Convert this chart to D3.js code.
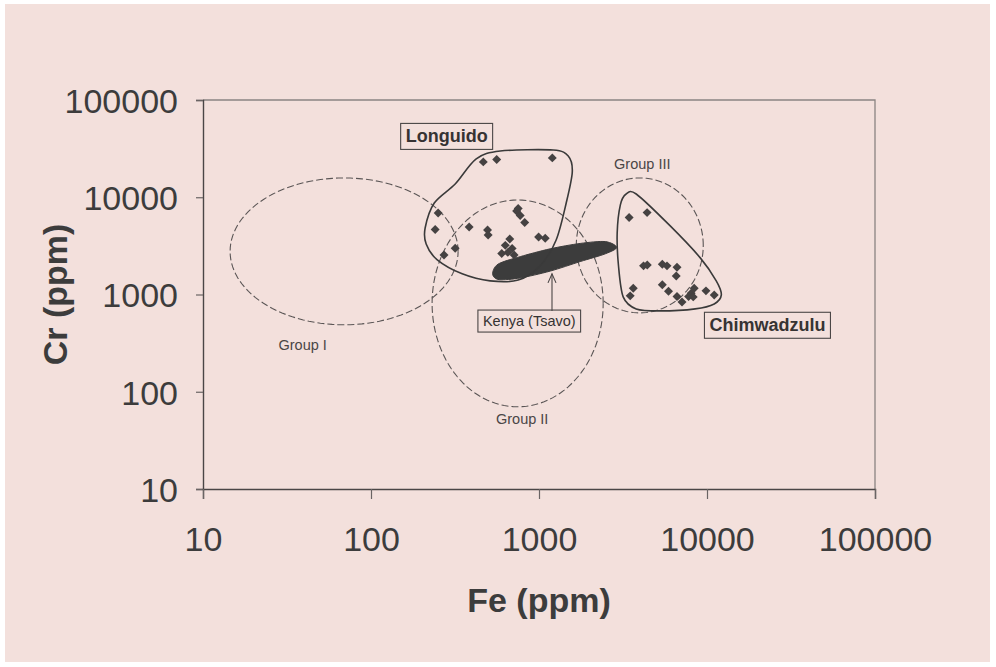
<!DOCTYPE html>
<html>
<head>
<meta charset="utf-8">
<script src="https://cdn.jsdelivr.net/npm/d3@7"></script>
<style>
  html, body { margin: 0; padding: 0; background: #ffffff; }
  svg { display: block; font-family: "Liberation Sans", Arial, sans-serif; }
</style>
</head>
<body>
<svg id="chart" width="996" height="667"></svg>
<script>
// Axis tick values (log scales)
const feTicks = [10, 100, 1000, 10000, 100000];
const crTicks = [10, 100, 1000, 10000, 100000];

// Longuido samples [Fe ppm, Cr ppm]
const longuidoPts = [
  [466, 23100], [560, 24400], [1200, 25400],
  [251, 6900], [241, 4670], [384, 4950], [317, 2990], [272, 2550],
  [736, 7230], [773, 6500], [752, 7680], [822, 5510],
  [494, 4610], [498, 4100], [670, 3720], [630, 3200], [692, 2980],
  [600, 2640], [652, 2710], [711, 2550], [995, 3910], [1089, 3780]
];

// Chimwadzulu samples [Fe ppm, Cr ppm]
const chimwadzuluPts = [
  [3440, 6200], [4400, 6950], [4190, 1970], [4410, 2010], [5420, 2050],
  [5780, 1970], [6630, 1910], [6560, 1550], [3640, 1160], [3490, 968],
  [5420, 1260], [5900, 1080], [6630, 955], [7100, 839], [7770, 951],
  [8050, 1030], [8390, 1160], [8280, 945], [9860, 1090], [11040, 990]
];

// Field outlines [Fe ppm, Cr ppm]
const longuidoOutline = [
  [210, 4830], [238, 8730], [317, 13700], [423, 24800], [588, 29900],
  [1216, 30600], [1493, 26500], [1578, 18200], [1452, 8730], [1265, 3640],
  [1016, 1970], [752, 1410], [512, 1380], [349, 1630], [248, 2270], [213, 3310]
];
const chimwadzuluOutline = [
  [3050, 8340], [3300, 10800], [3790, 10800], [6040, 5070], [9120, 2380],
  [11350, 1380], [12170, 990], [11040, 800], [8510, 711], [5270, 678],
  [3790, 711], [3170, 945], [2970, 2010], [2920, 4290]
];
// Kenya (Tsavo) dense sample field
const kenyaOutline = [
  [530, 1620], [570, 2050], [773, 2450], [1166, 2950], [1758, 3350],
  [2480, 3500], [2900, 3050], [2480, 2620], [1758, 2180], [1166, 1740],
  [773, 1480], [580, 1420]
];

// Group ellipses: Fe range and Cr range
const groupNames = ["Group I", "Group II", "Group III"];
const groupFe = [[14.5, 330], [231, 2410], [1667, 9500]];
const groupCr = [[488, 15800], [70, 9380], [647, 15800]];
const groupLabelPos = [[39.2, 303], [794, 52.6], [4120, 22000]];

const svg = d3.select("#chart");

// paper background
svg.append("rect").attr("x", 5).attr("y", 4).attr("width", 985).attr("height", 658)
  .attr("fill", "#f3e0dc");

const x = d3.scaleLog().domain([10, 100000]).range([203, 875]);
const y = d3.scaleLog().domain([10, 100000]).range([489, 100]);

const ink = "#3a3a3a";

// plot frame (top and right)
svg.append("path")
  .attr("d", `M${x(10)},${y(100000)}H${x(100000)}V${y(10)}`)
  .attr("fill", "none").attr("stroke", "#8a8482").attr("stroke-width", 1.3);

// axes
const yAxis = d3.axisLeft(y).tickValues(crTicks).tickSize(7).tickPadding(18)
  .tickFormat(d3.format("d"));
const xAxis = d3.axisBottom(x).tickValues(feTicks).tickSize(10).tickPadding(28)
  .tickFormat(d3.format("d"));

const gy = svg.append("g").attr("transform", `translate(${x(10)},0)`).call(yAxis);
const gx = svg.append("g").attr("transform", `translate(0,${y(10)})`).call(xAxis);
[gx, gy].forEach(g => {
  g.select(".domain").attr("stroke", "#4a4646").attr("stroke-width", 1.4);
  g.selectAll(".tick line").attr("stroke", "#6a6464").attr("stroke-width", 1.2);
  g.selectAll(".tick text").attr("fill", "#3c3c3c")
    .style("font-family", "'Liberation Sans', Arial, sans-serif").style("font-size", "34px");
});
gy.selectAll(".tick text").attr("dy", "0.36em");

// axis titles
svg.append("text").attr("x", x(1000)).attr("y", 612).attr("text-anchor", "middle")
  .attr("font-size", 34).attr("font-weight", "bold").attr("fill", "#3c3c3c").text("Fe (ppm)");
svg.append("text").attr("transform", `translate(67,${y(1000)}) rotate(-90)`)
  .attr("text-anchor", "middle")
  .attr("font-size", 34).attr("font-weight", "bold").attr("fill", "#3c3c3c").text("Cr (ppm)");

// group ellipses drawn in log-log space
groupNames.forEach((name, i) => {
  const lx = groupFe[i].map(Math.log10), ly = groupCr[i].map(Math.log10);
  const cx = (lx[0] + lx[1]) / 2, rx = (lx[1] - lx[0]) / 2;
  const cy = (ly[0] + ly[1]) / 2, ry = (ly[1] - ly[0]) / 2;
  const pts = d3.range(0, 361, 3).map(a => {
    const t = a * Math.PI / 180;
    return [x(Math.pow(10, cx + rx * Math.cos(t))), y(Math.pow(10, cy + ry * Math.sin(t)))];
  });
  svg.append("path").attr("d", d3.line()(pts)).attr("fill", "none")
    .attr("stroke", "#5a5555").attr("stroke-width", 1.1).attr("stroke-dasharray", "7,3");
  svg.append("text").attr("x", x(groupLabelPos[i][0])).attr("y", y(groupLabelPos[i][1]))
    .attr("dy", "0.36em").attr("text-anchor", "middle").attr("font-size", 14.5)
    .attr("fill", "#4a4646").text(name);
});

const outline = d3.line().x(d => x(d[0])).y(d => y(d[1])).curve(d3.curveCardinalClosed.tension(0.1));

// Kenya (Tsavo) field
svg.append("path").datum(kenyaOutline).attr("d", outline)
  .attr("fill", "#3c3c3c").attr("stroke", "#3c3c3c").attr("stroke-width", 1);

// field outlines
[longuidoOutline, chimwadzuluOutline].forEach(o => {
  svg.append("path").datum(o).attr("d", outline)
    .attr("fill", "none").attr("stroke", ink).attr("stroke-width", 1.6);
});

// samples
const diamond = d3.symbol().type(d3.symbolSquare).size(40);
[longuidoPts, chimwadzuluPts].forEach(pts => {
  svg.append("g").selectAll("path").data(pts).join("path")
    .attr("d", diamond)
    .attr("transform", d => `translate(${x(d[0])},${y(d[1])}) rotate(45)`)
    .attr("fill", "#454242");
});

// boxed labels
function boxLabel(text, fe, cr, size, bold) {
  const g = svg.append("g").attr("transform", `translate(${x(fe)},${y(cr)})`);
  const t = g.append("text").attr("text-anchor", "middle").attr("dy", "0.36em")
    .attr("font-size", size).attr("font-weight", bold ? "bold" : "normal")
    .attr("fill", "#363333").text(text);
  const b = t.node().getBBox();
  g.insert("rect", "text").attr("x", b.x - 5).attr("y", b.y - 3)
    .attr("width", b.width + 10).attr("height", b.height + 6)
    .attr("fill", "none").attr("stroke", "#4a4646").attr("stroke-width", 1.1);
  return b;
}
boxLabel("Longuido", 282, 42700, 18, true);
boxLabel("Chimwadzulu", 22900, 488, 18, true);
boxLabel("Kenya (Tsavo)", 875, 536, 14.5, false);

// arrow from Kenya label to the field
const arrowFe = 1195, arrowTop = 1630, arrowBase = 678;
svg.append("line").attr("x1", x(arrowFe)).attr("x2", x(arrowFe))
  .attr("y1", y(arrowBase)).attr("y2", y(arrowTop))
  .attr("stroke", "#4a4646").attr("stroke-width", 1.1);
svg.append("path")
  .attr("d", `M${x(arrowFe) - 4},${y(arrowTop) + 9}L${x(arrowFe)},${y(arrowTop)}L${x(arrowFe) + 4},${y(arrowTop) + 9}`)
  .attr("fill", "none").attr("stroke", "#4a4646").attr("stroke-width", 1.1);
</script>
</body>
</html>
